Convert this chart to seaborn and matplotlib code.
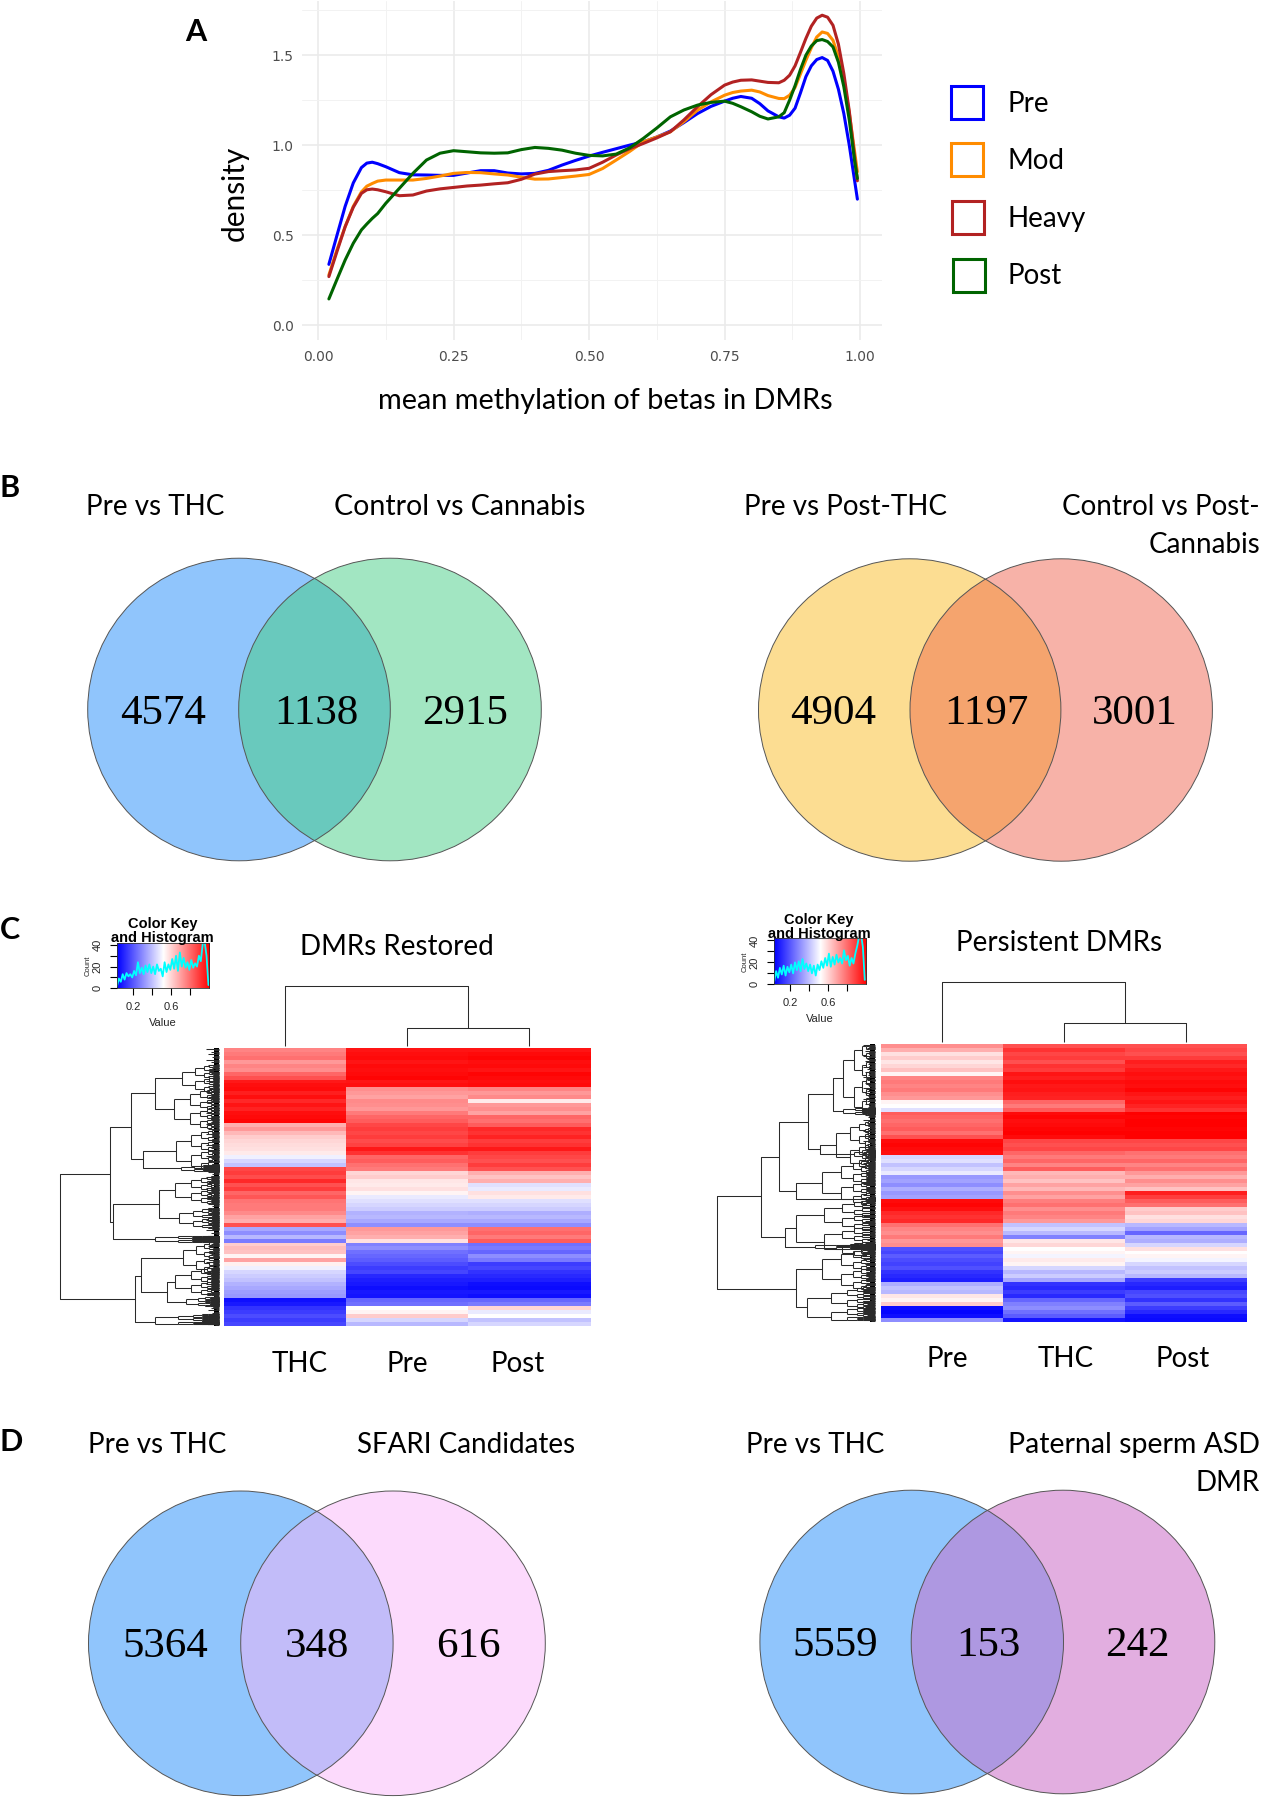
import numpy as np
import pandas as pd
import matplotlib
matplotlib.use("Agg")
import matplotlib.pyplot as plt
import seaborn as sns
from matplotlib.colors import LinearSegmentedColormap
from matplotlib.patches import Circle, Rectangle
from matplotlib.collections import LineCollection

# ------------------------------
# Data
# ------------------------------
beta = [.02, .035, .05, .065, .08, .09, .10, .11, .125, .15, .175,
        .20, .225, .25, .275, .30, .325, .35, .375, .40, .425, .45,
        .475, .50, .525, .55, .575, .60, .625, .65, .675, .70, .725,
        .75, .765, .78, .80, .815, .83, .85, .86, .87, .88, .89,
        .90, .91, .92, .93, .94, .95, .96, .97, .98, .99, .995]
dens_pre = [.338, .50, .66, .79, .875, .90, .905, .897, .88, .847, .835,
            .834, .832, .832, .845, .858, .858, .845, .84, .843, .86, .889,
            .915, .939, .96, .98, 1.0, 1.018, 1.045, 1.078, 1.125, 1.175, 1.215,
            1.244, 1.26, 1.27, 1.26, 1.23, 1.19, 1.157, 1.15, 1.166, 1.205, 1.29,
            1.38, 1.44, 1.475, 1.486, 1.47, 1.41, 1.31, 1.175, 1.0, .80, .70]
dens_mod = [.279, .42, .547, .66, .74, .772, .787, .80, .806, .806, .806,
            .815, .828, .843, .848, .847, .84, .834, .822, .811, .812, .82,
            .828, .837, .87, .917, .965, 1.018, 1.045, 1.074, 1.13, 1.194, 1.24,
            1.277, 1.292, 1.30, 1.305, 1.295, 1.275, 1.259, 1.258, 1.277, 1.32, 1.395,
            1.471, 1.54, 1.60, 1.628, 1.62, 1.582, 1.49, 1.36, 1.18, .96, .852]
dens_heavy = [.27, .41, .547, .655, .732, .752, .756, .752, .741, .719, .723,
              .745, .757, .765, .773, .778, .785, .791, .81, .839, .853, .858,
              .862, .871, .905, .945, .98, 1.009, 1.04, 1.074, 1.14, 1.213, 1.28,
              1.333, 1.35, 1.36, 1.362, 1.355, 1.348, 1.346, 1.36, 1.388, 1.44, 1.515,
              1.592, 1.66, 1.705, 1.721, 1.71, 1.665, 1.56, 1.397, 1.19, .93, .802]
dens_post = [.146, .255, .362, .455, .529, .562, .593, .62, .677, .76, .843,
             .917, .955, .969, .963, .957, .955, .957, .975, .987, .982, .972,
             .955, .943, .94, .95, .985, 1.037, 1.095, 1.157, 1.195, 1.222, 1.237,
             1.244, 1.232, 1.213, 1.185, 1.16, 1.145, 1.157, 1.18, 1.25, 1.33, 1.42,
             1.499, 1.55, 1.58, 1.586, 1.575, 1.545, 1.46, 1.324, 1.14, .91, .815]
groups = ["Pre", "Mod", "Heavy", "Post"]
group_colors = ["#0000FF", "#FF8C00", "#B22222", "#006400"]

# heatmap rows, top to bottom (0 = blue, 0.5 = white, 1 = red)
rest_thc = [.74, .76, .78, .70, .74, .72, .80, .84, .95, .97,
            .98, .94, .97, .92, .96, .93, .97, .98, .99, .66,
            .70, .64, .60, .58, .57, .56, .54, .47, .42, .38,
            .86, .88, .85, .92, .84, .88, .80, .83, .77, .76,
            .76, .73, .68, .66, .84, .33, .28, .36, .24, .60,
            .63, .62, .52, .68, .53, .47, .42, .40, .38, .35,
            .33, .31, .30, .03, .05, .10, .12, .15, .12, .14]
rest_pre = [.96, .97, .98, .96, .98, .97, .98, .99, .96, .97,
            .72, .70, .68, .73, .72, .70, .76, .80, .82, .86,
            .88, .86, .88, .85, .87, .95, .90, .80, .82, .78,
            .76, .58, .60, .55, .54, .56, .52, .46, .44, .42,
            .40, .35, .36, .33, .28, .70, .68, .66, .56, .25,
            .28, .22, .20, .18, .15, .12, .14, .08, .06, .05,
            .03, .05, .04, .20, .22, .50, .52, .60, .42, .36]
rest_post = [.96, .98, .99, .97, .98, .96, .99, .98, .97, .98,
             .74, .70, .73, .54, .70, .72, .68, .80, .78, .82,
             .92, .90, .93, .88, .90, .95, .88, .86, .84, .88,
             .84, .66, .62, .66, .44, .46, .56, .54, .44, .42,
             .40, .34, .36, .33, .28, .78, .80, .76, .82, .22,
             .24, .20, .28, .24, .12, .14, .10, .08, .06, .03,
             .02, .05, .03, .20, .24, .58, .46, .50, .38, .42]

pers_pre = [.72, .66, .56, .60, .55, .58, .62, .52, .74, .76,
            .74, .76, .72, .70, .52, .50, .44, .82, .80, .78,
            .80, .82, .78, .84, .98, .99, .98, .97, .42, .44,
            .38, .42, .46, .30, .32, .28, .34, .30, .32, .98,
            .99, .97, .92, .90, .92, .78, .74, .72, .76, .70,
            .72, .16, .14, .18, .15, .13, .16, .10, .08, .06,
            .34, .38, .36, .55, .52, .60, .02, .01, .03, .28]
pers_thc = [.84, .90, .86, .88, .84, .90, .88, .96, .94, .97,
            .95, .96, .94, .93, .80, .76, .82, .98, .99, .97,
            .98, .99, 1.0, .98, .86, .84, .86, .80, .76, .80,
            .74, .82, .64, .66, .62, .68, .64, .72, .68, .75,
            .78, .72, .76, .74, .70, .38, .42, .36, .25, .55,
            .58, .50, .52, .48, .54, .52, .42, .36, .40, .33,
            .10, .08, .12, .08, .20, .25, .28, .22, .18, .04]
pers_post = [.84, .86, .84, .88, .94, .92, .95, .97, .96, .98,
             .97, .99, .96, .94, .96, .93, .90, 1.0, .99, 1.0,
             1.0, .99, 1.0, 1.0, .86, .84, .86, .78, .76, .80,
             .74, .78, .70, .66, .72, .68, .62, .94, .88, .82,
             .78, .60, .62, .56, .58, .36, .32, .20, .36, .34,
             .42, .56, .50, .52, .48, .42, .38, .40, .36, .12,
             .08, .06, .14, .16, .10, .18, .12, .08, .03, .02]

# colour key histograms
key_bins = [.03, .05, .07, .09, .11, .13, .15, .17, .19, .21, .23, .25, .27, .29, .31, .33, .35, .37, .39,
            .41, .43, .45, .47, .49, .51, .53, .55, .57, .59, .61, .63, .65, .67, .69, .71, .73, .75, .77,
            .79, .81, .83, .85, .87, .89, .91, .93, .95, .97, .99]
key_rest = [2, 9, 6, 13, 8, 14, 11, 13, 10, 16, 12, 24, 14, 19, 13, 21, 15, 22, 14, 20, 13, 22, 16, 18, 11,
            24, 15, 22, 17, 27, 18, 30, 16, 33, 20, 28, 19, 24, 17, 26, 19, 23, 20, 30, 25, 41, 43, 30, 3]
key_pers = [3, 12, 6, 15, 9, 17, 8, 16, 11, 18, 10, 20, 13, 21, 12, 23, 14, 19, 12, 18, 10, 17, 8, 18, 13,
            21, 15, 24, 17, 28, 16, 25, 18, 27, 20, 24, 19, 31, 22, 26, 17, 24, 19, 28, 35, 44, 46, 34, 4]

# dendrogram merges: height, upper row, lower row, upper child, lower child
rest_merges = [(55, 822, 1196, 190, 258), (190, 680, 965, 245, 197), (245, 578, 778, 311, 279),
               (311, 535, 627, 384, 362), (279, 752, 805, 368, 380), (197, 913, 1017, 323, 310),
               (323, 870, 955, 366, 375), (258, 1127, 1265, 272, 312), (272, 1073, 1177, 386, 342),
               (342, 1145, 1205, 365, 395)]
rest_tufts = [(384, 515, 555), (362, 598, 656), (368, 722, 782), (380, 800, 810), (366, 850, 890),
              (375, 940, 970), (310, 1012, 1022), (386, 1050, 1096), (365, 1125, 1165), (395, 1198, 1212),
              (312, 1252, 1272)]
pers_merges = [(48, 889, 1166, 170, 268), (170, 770, 1011, 220, 236), (220, 665, 872, 301, 267),
               (301, 583, 748, 370, 334), (370, 535, 633, 398, 400), (334, 735, 762, 380, 430),
               (267, 848, 898, 340, 470), (236, 985, 1040, 267, 320), (268, 1108, 1222, 340, 298)]
pers_tufts = [(398, 480, 590), (400, 628, 638), (380, 700, 770), (430, 755, 769), (340, 815, 880),
              (470, 895, 901), (267, 945, 1025), (320, 1036, 1044), (340, 1078, 1138), (298, 1193, 1250)]
hair_lengths = [34, 12, 22, 8, 28, 14, 18, 10]

W, H = 1262, 1800
MAIN = "Lato"
LABEL = 20

sns.set_theme(style="white")
plt.rcParams["font.family"] = [MAIN, "DejaVu Sans"]
fig = plt.figure(figsize=(W / 100, H / 100), dpi=100)


def px_axes(x0, y0, x1, y1, **kw):
    return fig.add_axes([x0 / W, 1 - y1 / H, (x1 - x0) / W, (y1 - y0) / H], **kw)


# ------------------------------
# Panel A: density curves
# ------------------------------
ax = px_axes(302, 1, 882, 340)
curves = pd.DataFrame({
    "beta": beta * 4,
    "density": dens_pre + dens_mod + dens_heavy + dens_post,
    "group": np.repeat(groups, len(beta)),
})
sns.lineplot(data=curves, x="beta", y="density", hue="group", hue_order=groups, palette=group_colors,
             estimator=None, sort=False, linewidth=2.2, legend=False, solid_joinstyle="round", ax=ax)
ax.set_xlim(-0.0296, 1.0404)
ax.set_ylim(-0.082, 1.8)
ax.set_xticks([0, .25, .5, .75, 1])
ax.set_xticklabels(["0.00", "0.25", "0.50", "0.75", "1.00"])
ax.set_yticks([0, .5, 1, 1.5])
ax.set_yticklabels(["0.0", "0.5", "1.0", "1.5"])
ax.set_xticks([.125, .375, .625, .875], minor=True)
ax.set_yticks([.25, .75, 1.25, 1.75], minor=True)
ax.grid(True, which="major", color="#EBEBEB", linewidth=1.2)
ax.grid(True, which="minor", color="#F2F2F2", linewidth=0.7)
ax.set_axisbelow(True)
ax.tick_params(which="both", length=0, colors="#4D4D4D")
for t in ax.get_xticklabels() + ax.get_yticklabels():
    t.set_family("Liberation Sans Narrow")
    t.set_fontsize(10)
ax.tick_params(axis="x", pad=7)
ax.tick_params(axis="y", pad=6)
ax.set_xlabel("")
ax.set_ylabel("")
sns.despine(ax=ax, left=True, bottom=True)

# ------------------------------
# Panel C: heatmaps
# ------------------------------
bwr = LinearSegmentedColormap.from_list("bwr_key", ["#0000FF", "#FFFFFF", "#FF0000"])

ax = px_axes(224.2, 1047.7, 590.5, 1326)
sns.heatmap(pd.DataFrame({"THC": rest_thc, "Pre": rest_pre, "Post": rest_post}), cmap=bwr, vmin=0, vmax=1,
            cbar=False, xticklabels=False, yticklabels=False, ax=ax)
ax = px_axes(881, 1044, 1247, 1322)
sns.heatmap(pd.DataFrame({"Pre": pers_pre, "THC": pers_thc, "Post": pers_post}), cmap=bwr, vmin=0, vmax=1,
            cbar=False, xticklabels=False, yticklabels=False, ax=ax)


def color_key(x0, y0, x1, y1, xlim, counts):
    ax = px_axes(x0, y0, x1, y1)
    ax.imshow(np.linspace(0, 1, 256)[None, :], cmap=bwr, aspect="auto", extent=[xlim[0], xlim[1], 0, 42])
    sns.lineplot(x=key_bins, y=counts, color="#00FFFF", linewidth=1.3, estimator=None, ax=ax)
    ax.set_xlim(*xlim)
    ax.set_ylim(0, 42)
    ax.grid(False)
    ax.set_xticks([.2, .4, .6, .8])
    ax.set_xticklabels(["0.2", "", "0.6", ""], family="Liberation Sans", fontsize=8)
    ax.set_yticks([0, 10, 20, 30, 40])
    ax.set_yticklabels(["0", "", "20", "", "40"], family="Liberation Sans", fontsize=8, rotation=90, va="center")
    ax.tick_params(length=5, width=0.8, color="black", pad=5, bottom=True, left=True)
    ax.set_xlabel("Value", family="Liberation Sans", fontsize=8, labelpad=4)
    ax.set_ylabel("Count", family="Liberation Sans", fontsize=5.5, labelpad=1)
    for s in ax.spines.values():
        s.set_linewidth(0.6)
        s.set_color("#333333")
    return ax


color_key(116.6, 942.7, 209, 988.3, (.026, .996), key_rest)
color_key(773.5, 938.3, 865.6, 984.3, (.022, .999), key_pers)

# ------------------------------
# Overlay in figure pixels: text, venns, dendrograms
# ------------------------------
ov = fig.add_axes([0, 0, 1, 1], facecolor="none")
ov.set_xlim(0, W)
ov.set_ylim(H, 0)
ov.set_axis_off()


def label(x, y, s, ha="center", size=LABEL, **kw):
    ov.text(x, y + 2, s, ha=ha, va="center", fontsize=size, color=kw.pop("color", "black"), **kw)


def venn(cx1, cx2, cy, r, c1, c2, c12, counts, count_x, count_y):
    a = Circle((cx1, cy), r, facecolor=c1, edgecolor="none")
    b = Circle((cx2, cy), r, facecolor=c2, edgecolor="none")
    ov.add_patch(a)
    ov.add_patch(b)
    both = Circle((cx2, cy), r, facecolor=c12, edgecolor="none")
    ov.add_patch(both)
    both.set_clip_path(a)
    for cx in (cx1, cx2):
        ov.add_patch(Circle((cx, cy), r, facecolor="none", edgecolor="#555555", linewidth=0.7))
    for n, x in zip(counts, count_x):
        ov.text(x, count_y + 3, n, ha="center", va="center", family="Liberation Serif", fontsize=31, color="black")


venn(239, 390, 709.5, 151.3, "#90C5FC", "#A2E6C2", "#69C9BD", ["4574", "1138", "2915"], [162.6, 316, 464.8], 710.7)
venn(909.7, 1061.2, 710, 151.2, "#FCDD92", "#F7B2A8", "#F5A46E", ["4904", "1197", "3001"], [833, 986.3, 1134.8], 710.7)
venn(240.8, 393, 1643.3, 152.3, "#90C5FC", "#FCDAFC", "#C2BCF9", ["5364", "348", "616"], [165, 316.7, 468.8], 1644)
venn(911.7, 1063, 1642, 151.8, "#90C5FC", "#E2AEE0", "#AE98E1", ["5559", "153", "242"], [835.4, 988, 1137], 1642.7)


def dendro(base_x, sx, merges, tufts, edge, top_merges, y_top, y_bot):
    segs = []
    fx = lambda v: base_x + v / sx
    fy = lambda v: 900 + v / 3

    def tuft(x, y1, y2, depth):
        y1, y2 = max(y1, y_top + 6), min(y2, y_bot - 6)
        segs.append([(fx(x), fy(y1)), (fx(x), fy(y2))])
        for y in (y1, y2):
            nx = x + (edge - x) * 0.36
            if depth == 0:
                segs.append([(fx(x), fy(y)), (fx(edge), fy(y))])
            else:
                span = (y2 - y1) * 0.27
                segs.append([(fx(x), fy(y)), (fx(nx), fy(y))])
                tuft(nx, y - span, y + span, depth - 1)

    for x, y1, y2, xa, xb in merges:
        segs.append([(fx(xa), fy(y1)), (fx(x), fy(y1)), (fx(x), fy(y2)), (fx(xb), fy(y2))])
    for x, y1, y2 in tufts:
        tuft(x, y1, y2, 4)
    # fine leaf branches running into the solid leaf column
    for i, y in enumerate(np.arange(y_top + 4, y_bot, 4)):
        segs.append([(fx(edge - hair_lengths[i % len(hair_lengths)]), fy(y)), (fx(edge), fy(y))])
    for y, xa, xb, ya, yb in top_merges:
        segs.append([(fx(xa), fy(ya)), (fx(xa), fy(y)), (fx(xb), fy(y)), (fx(xb), fy(yb))])
    ov.add_collection(LineCollection(segs, colors="#2A2A2A", linewidths=0.75))
    ov.add_patch(Rectangle((fx(edge - 13), fy(y_top)), 13 / sx, (y_bot - y_top) / 3, facecolor="black", edgecolor="none"))


dendro(40, 2.703, rest_merges, rest_tufts, 483,
       [(259, 663, 1158, 437, 384), (384, 992, 1323, 437, 437)], 443, 1278)
dendro(700, 2.79, pers_merges, pers_tufts, 488,
       [(247, 675, 1186, 425, 370), (370, 1015, 1356, 425, 425)], 432, 1265)

# key titles
for x, y1, y2 in [(162.8, 924, 938), (819, 920, 934.3)]:
    ov.text(x, y1, "Color Key", ha="center", va="center", family="Liberation Sans", weight="bold", fontsize=10.5, color="black")
    ov.text(x, y2, "and Histogram", ha="center", va="center", family="Liberation Sans", weight="bold", fontsize=10.5, color="black")

# legend for panel A
for name, col, ly, (lx0, lx1, ly0, ly1) in zip(groups, group_colors, [101.7, 159, 216.7, 274],
                                               [(951, 983, 86, 119), (951, 983, 143, 176),
                                                (952, 984, 201, 234), (953, 985, 259, 292)]):
    ov.add_patch(Rectangle((lx0, ly0), lx1 - lx0, ly1 - ly0, facecolor="white", edgecolor=col, linewidth=2.2))
    label(1007, ly, name, ha="left")

# axis titles for panel A
label(605, 399, "mean methylation of betas in DMRs", size=20.8)
label(234.4, 191, "density", rotation=90, size=21.5)

# panel letters
label(185, 30, "A", ha="left", size=22, weight="bold")
label(0, 486, "B", ha="left", size=22, weight="bold")
label(0, 928, "C", ha="left", size=22, weight="bold")
label(0, 1439.7, "D", ha="left", size=22, weight="bold")

# venn headers
label(155, 505, "Pre vs THC")
label(460, 505, "Control vs Cannabis", size=20.5)
label(845.5, 505, "Pre vs Post-THC")
label(1260, 505, "Control vs Post-", ha="right")
label(1260, 542.7, "Cannabis", ha="right")
label(157.5, 1442.7, "Pre vs THC")
label(465.7, 1442.7, "SFARI Candidates")
label(815, 1442.7, "Pre vs THC")
label(1260, 1442.7, "Paternal sperm ASD", ha="right", size=20.5)
label(1260, 1481, "DMR", ha="right")

# heatmap headers and column labels
label(396.5, 945, "DMRs Restored")
label(1058.7, 941, "Persistent DMRs")
for x, s in zip([299.7, 407.6, 517.9], ["THC", "Pre", "Post"]):
    label(x, 1362, s)
for x, s in zip([947.3, 1065.6, 1182.7], ["Pre", "THC", "Post"]):
    label(x, 1357, s)

fig.savefig("out.png", dpi=100)
